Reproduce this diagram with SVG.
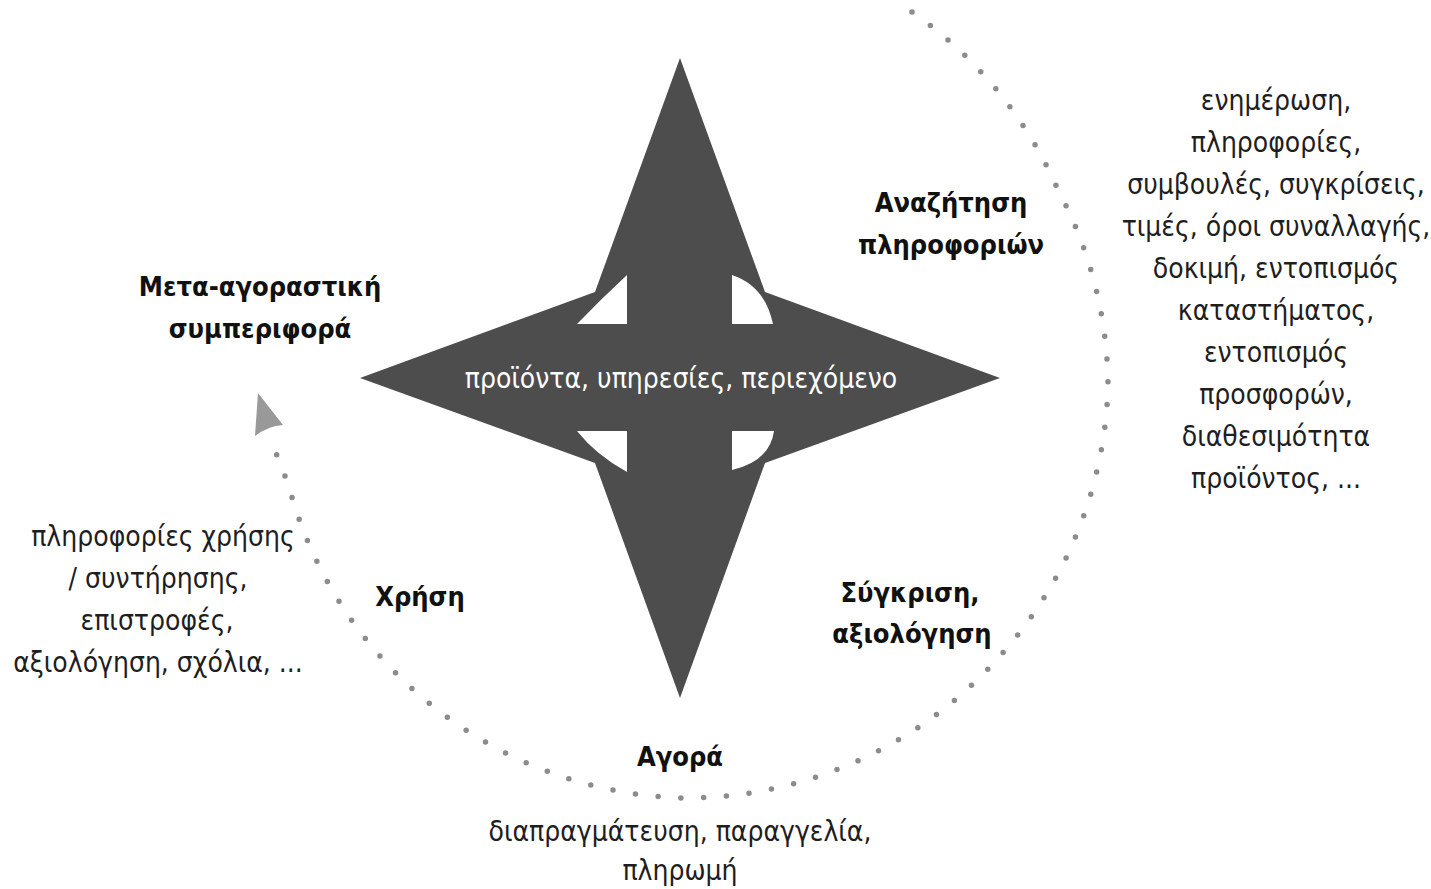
<svg xmlns="http://www.w3.org/2000/svg" width="1431" height="889" viewBox="0 0 1431 889">
<style>
.t{font-family:"DejaVu Sans Condensed","DejaVu Sans",sans-serif;font-stretch:condensed;font-size:28px;fill:#1e1e1e;text-anchor:middle}
.b{font-family:"DejaVu Sans Condensed","DejaVu Sans",sans-serif;font-stretch:condensed;font-weight:bold;font-size:27px;fill:#111;text-anchor:middle}
.w{fill:#ffffff}
.dots{fill:none;stroke:#8c8c8c;stroke-width:5.5;stroke-linecap:round;stroke-dasharray:0 22.8}
</style>
<rect width="1431" height="889" fill="#ffffff"/>
<g id="connectors">
<path class="dots" d="M912,12 A420,420 0 0 1 1058,190 A420,420 0 0 1 1108,385 A420,420 0 0 1 1000,656 A420,420 0 0 1 681,798 A420,420 0 0 1 477,737 A420,420 0 0 1 288,483 A420,420 0 0 1 271,438"/>
<path d="M258,393 L283,425 Q268,426 255,436 Z" fill="#999999"/>
</g>
<g id="star">
<path fill="#4d4d4d" fill-rule="evenodd" d="M680,58 L765,292 L1000,378 L765,463 L680,698 L595,463 L360,378 L595,292 Z M627,275 L627,324 L577,324 Q601,299 627,275 Z M732,275 L732,324 L773,324 Q765,286 732,275 Z M577,431 L627,431 L627,472 Q596,455 577,431 Z M732,431 L774,431 Q770,461 732,470 Z"/>
<text class="t w" x="681" y="388">προϊόντα, υπηρεσίες, περιεχόμενο</text>
</g>
<g id="node-search">
<text class="b" x="951" y="212">Αναζήτηση</text>
<text class="b" x="951" y="254">πληροφοριών</text>
</g>
<g id="node-search-details">
<text class="t" x="1276" y="110">ενημέρωση,</text>
<text class="t" x="1276" y="152">πληροφορίες,</text>
<text class="t" x="1276" y="194">συμβουλές, συγκρίσεις,</text>
<text class="t" x="1276" y="236">τιμές, όροι συναλλαγής,</text>
<text class="t" x="1276" y="278">δοκιμή, εντοπισμός</text>
<text class="t" x="1276" y="320">καταστήματος,</text>
<text class="t" x="1276" y="362">εντοπισμός</text>
<text class="t" x="1276" y="404">προσφορών,</text>
<text class="t" x="1276" y="446">διαθεσιμότητα</text>
<text class="t" x="1276" y="488">προϊόντος, ...</text>
</g>
<g id="node-compare">
<text class="b" x="910" y="602">Σύγκριση,</text>
<text class="b" x="912" y="643">αξιολόγηση</text>
</g>
<g id="node-purchase">
<text class="b" x="680" y="766">Αγορά</text>
</g>
<g id="node-purchase-details">
<text class="t" x="680" y="841">διαπραγμάτευση, παραγγελία,</text>
<text class="t" x="680" y="880">πληρωμή</text>
</g>
<g id="node-use">
<text class="b" x="420" y="606">Χρήση</text>
</g>
<g id="node-use-details">
<text class="t" x="163" y="546">πληροφορίες χρήσης</text>
<text class="t" x="158" y="588">/ συντήρησης,</text>
<text class="t" x="157" y="630">επιστροφές,</text>
<text class="t" x="158" y="672">αξιολόγηση, σχόλια, ...</text>
</g>
<g id="node-post">
<text class="b" x="260" y="296">Μετα-αγοραστική</text>
<text class="b" x="260" y="338">συμπεριφορά</text>
</g>
</svg>
